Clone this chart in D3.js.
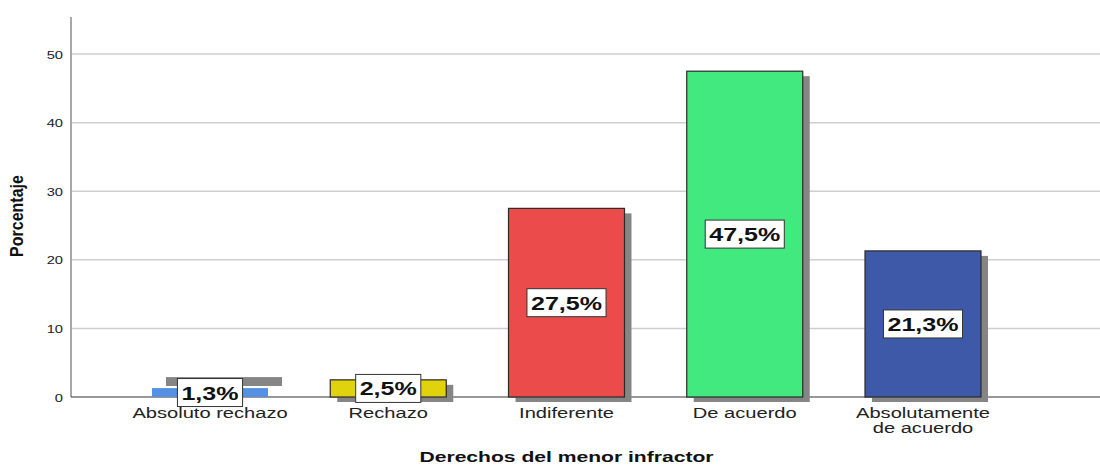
<!DOCTYPE html>
<html>
<head>
<meta charset="utf-8">
<script src="https://cdn.jsdelivr.net/npm/d3@7"></script>
<style>
  html, body { margin: 0; padding: 0; background: #fff; }
  svg { display: block; font-family: "Liberation Sans", Arial, sans-serif; }
</style>
</head>
<body>
<svg id="chart" width="1100" height="466"></svg>
<script>
// ---- data ----
const categories = ["Absoluto rechazo", "Rechazo", "Indiferente", "De acuerdo", "Absolutamente de acuerdo"];
const categoryLines = [["Absoluto rechazo"], ["Rechazo"], ["Indiferente"], ["De acuerdo"], ["Absolutamente", "de acuerdo"]];
const values = [1.3, 2.5, 27.5, 47.5, 21.3];
const valueLabels = ["1,3%", "2,5%", "27,5%", "47,5%", "21,3%"];
const yTicks = [0, 10, 20, 30, 40, 50];
const xTitle = "Derechos del menor infractor";
const yTitle = "Porcentaje";

// ---- style ----
const colors = ["#5590e2", "#e0d20c", "#ec4b4c", "#41e97e", "#3e59a8"];
const borders = [false, true, true, true, true];
const SX = 1.34; // horizontal text stretch of the original rendering

const svg = d3.select("#chart");
const mLeft = 71, mRight = 1100, mTop = 17, mBottom = 397;
const barW = 116;

const y = d3.scaleLinear().domain([0, 55.4]).range([mBottom, mTop]);
const x = d3.scalePoint().domain(categories).range([210, 923]);

// gridlines
svg.append("g").selectAll("line").data(yTicks.filter(d => d > 0)).join("line")
  .attr("x1", mLeft).attr("x2", mRight)
  .attr("y1", d => y(d)).attr("y2", d => y(d))
  .attr("stroke", "#cfcfcf").attr("stroke-width", 1.5);

// y axis
const yAxis = svg.append("g").attr("transform", `translate(${mLeft},0)`)
  .call(d3.axisLeft(y).tickValues(yTicks).tickSize(0).tickFormat(d3.format("d")));
yAxis.select(".domain").attr("stroke", "#a8a8a8").attr("stroke-width", 2)
  .attr("d", `M0,${mTop}V${mBottom}`);
yAxis.selectAll(".tick text")
  .attr("x", null).attr("dy", null)
  .attr("font-size", 10.5).attr("fill", "#222")
  .attr("font-family", "Liberation Sans, Arial, sans-serif")
  .attr("text-anchor", "end")
  .attr("transform", `translate(-8,4) scale(1.4,1)`);

// baseline
svg.append("line").attr("x1", mLeft).attr("x2", mRight)
  .attr("y1", y(0)).attr("y2", y(0)).attr("stroke", "#333").attr("stroke-width", 1.2);

// shadows (the smallest bar's shadow is displaced in the original rendering)
const shadowOffset = (i) => i === 0 ? [14, -11] : [7, 5];
const bars = categories.map((c, i) => ({ c, i, v: values[i] }));

svg.append("g").selectAll("rect").data(bars).join("rect")
  .attr("x", d => x(d.c) - barW / 2 + shadowOffset(d.i)[0])
  .attr("y", d => y(d.v) + shadowOffset(d.i)[1])
  .attr("width", barW)
  .attr("height", d => y(0) - y(d.v))
  .attr("fill", "#858585");

// bars
svg.append("g").selectAll("rect").data(bars).join("rect")
  .attr("x", d => x(d.c) - barW / 2)
  .attr("y", d => y(d.v))
  .attr("width", barW)
  .attr("height", d => y(0) - y(d.v))
  .attr("fill", d => colors[d.i])
  .attr("stroke", d => borders[d.i] ? "#2a2a2a" : "none")
  .attr("stroke-width", 1.2);

// value labels
const lab = svg.append("g").selectAll("g").data(bars).join("g")
  .attr("transform", d => `translate(${x(d.c)},${(y(d.v) + y(0)) / 2})`);
const labText = lab.append("text")
  .attr("text-anchor", "middle")
  .attr("font-size", 19).attr("font-weight", "bold").attr("fill", "#111")
  .attr("transform", `translate(0,7) scale(${SX - 0.02},1)`)
  .text(d => valueLabels[d.i]);
lab.insert("rect", "text")
  .each(function (d, i) {
    const t = labText.nodes()[i];
    const w = t.getComputedTextLength() * (SX - 0.02) + 8;
    d3.select(this).attr("x", -w / 2).attr("y", -14).attr("width", w).attr("height", 28);
  })
  .attr("fill", "#fff").attr("stroke", "#333").attr("stroke-width", 1);

// category labels
const cat = svg.append("g").selectAll("text").data(bars).join("text")
  .attr("text-anchor", "middle")
  .attr("font-size", 15).attr("fill", "#222")
  .attr("transform", d => `translate(${x(d.c)},418) scale(${SX},1)`);
cat.selectAll("tspan").data(d => categoryLines[d.i]).join("tspan")
  .attr("x", 0).attr("dy", (d, i) => i === 0 ? 0 : 15.5)
  .text(d => d);

// axis titles
svg.append("text")
  .attr("text-anchor", "middle")
  .attr("font-size", 15.5).attr("font-weight", "bold").attr("fill", "#111")
  .attr("transform", `translate(566.5,462) scale(1.36,1)`)
  .text(xTitle);

svg.append("text")
  .attr("text-anchor", "middle")
  .attr("font-size", 16).attr("font-weight", "bold").attr("fill", "#111")
  .attr("transform", `translate(23,216) scale(1.15,1) rotate(-90)`)
  .text(yTitle);
</script>
</body>
</html>
